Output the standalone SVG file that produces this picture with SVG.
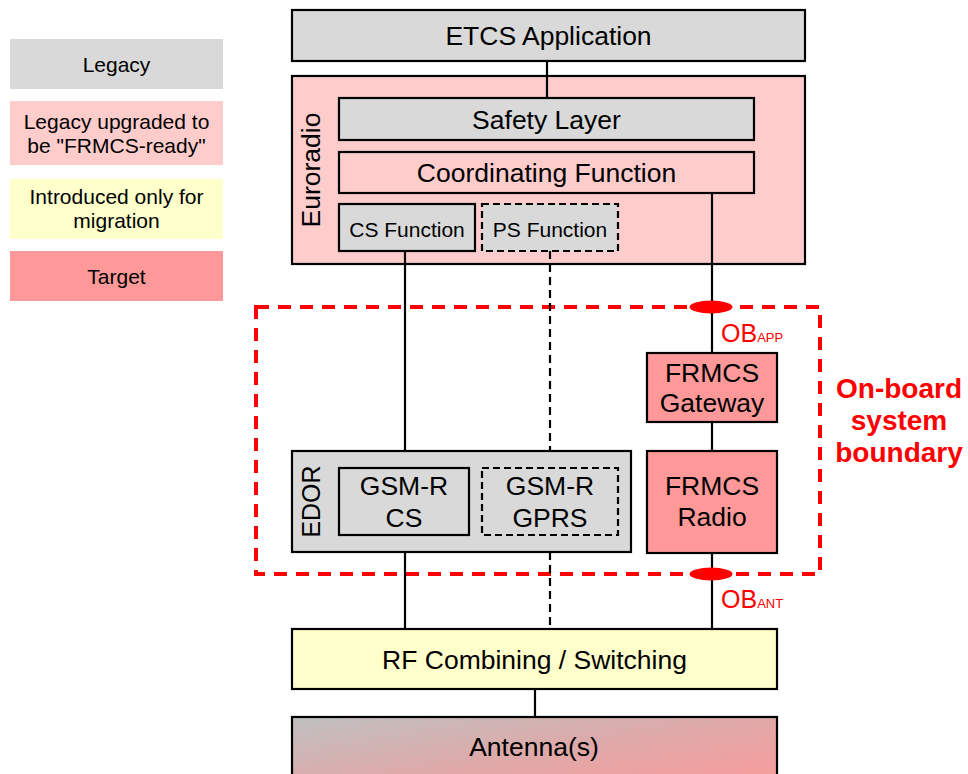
<svg xmlns="http://www.w3.org/2000/svg" width="968" height="774" viewBox="0 0 968 774">
<style>
text{font-family:"Liberation Sans",Arial,sans-serif;fill:#000;text-anchor:middle}
.box{stroke:#000;stroke-width:2.2}
.dbox{stroke:#000;stroke-width:2.2;stroke-dasharray:7 4}
.legacy{fill:#d9d9d9}
.upg{fill:#ffcccc}
.mig{fill:#ffffcc}
.tgt{fill:#ff9999}
.lg{font-size:21px}
.t{font-size:26.5px}
.s{font-size:21px}
.ln{stroke:#000;stroke-width:2.2;fill:none}
.dl{stroke:#000;stroke-width:2.2;fill:none;stroke-dasharray:8 5}
.red{fill:#ff0000}
</style>
<defs>
<linearGradient id="ant" x1="0" y1="0" x2="1" y2="1">
<stop offset="0" stop-color="#c0c0c0"/>
<stop offset="0.5" stop-color="#e0a8a8"/>
<stop offset="1" stop-color="#ff9999"/>
</linearGradient>
</defs>

<g id="legend">
<g id="legend-legacy"><rect class="legacy" x="10" y="39" width="213" height="50"/><text class="lg" x="116.5" y="71.5">Legacy</text></g>
<g id="legend-upgraded"><rect class="upg" x="10" y="101" width="213" height="64"/><text class="lg" x="116.5" y="129">Legacy upgraded to</text><text class="lg" x="116.5" y="153">be "FRMCS-ready"</text></g>
<g id="legend-migration"><rect class="mig" x="10" y="179" width="213" height="60"/><text class="lg" x="116.5" y="204">Introduced only for</text><text class="lg" x="116.5" y="228">migration</text></g>
<g id="legend-target"><rect class="tgt" x="10" y="251" width="213" height="50"/><text class="lg" x="116.5" y="284">Target</text></g>
</g>

<g id="boundary">
<rect x="256" y="307" width="564" height="267" fill="none" stroke="#ff0000" stroke-width="4" stroke-dasharray="13 9"/>
<text x="899" y="398" style="font-size:28px;font-weight:bold;fill:#ff0000">On-board</text>
<text x="899" y="430" style="font-size:28px;font-weight:bold;fill:#ff0000">system</text>
<text x="899" y="462" style="font-size:28px;font-weight:bold;fill:#ff0000">boundary</text>
</g>

<g id="etcs"><rect class="box legacy" x="292" y="10" width="513" height="51"/><text class="t" x="548.5" y="45">ETCS Application</text></g>

<g id="euroradio"><rect class="box upg" x="292" y="76" width="513" height="188"/><text class="t" transform="translate(320,170) rotate(-90)">Euroradio</text></g>
<g id="safety"><rect class="box legacy" x="339" y="98" width="415" height="42"/><text class="t" x="546.5" y="128.5">Safety Layer</text></g>
<g id="coord"><rect class="box upg" x="339" y="152" width="415" height="41"/><text class="t" x="546.5" y="182">Coordinating Function</text></g>
<g id="csf"><rect class="box legacy" x="339" y="204" width="136" height="47"/><text class="s" x="407" y="236.5">CS Function</text></g>
<g id="psf"><rect class="dbox legacy" x="482" y="204" width="136" height="47"/><text class="s" x="550" y="236.5">PS Function</text></g>

<g id="connectors">
<line class="ln" x1="547" y1="61" x2="547" y2="98"/>
<line class="ln" x1="405" y1="251" x2="405" y2="468"/>
<line class="ln" x1="405" y1="552" x2="405" y2="629"/>
<line class="dl" x1="550" y1="251" x2="550" y2="468"/>
<line class="dl" x1="550" y1="552" x2="550" y2="629"/>
<line class="ln" x1="712" y1="193" x2="712" y2="353"/>
<line class="ln" x1="712" y1="422" x2="712" y2="451"/>
<line class="ln" x1="712" y1="553" x2="712" y2="629"/>
<line class="ln" x1="535" y1="689" x2="535" y2="717"/>
</g>

<g id="ob-app"><ellipse class="red" cx="711" cy="307" rx="21.5" ry="6.5"/><text x="721" y="341.5" style="text-anchor:start;font-size:25px;fill:#ff0000">OB<tspan style="font-size:13px">APP</tspan></text></g>
<g id="ob-ant"><ellipse class="red" cx="711" cy="574" rx="21.5" ry="6.5"/><text x="721" y="608" style="text-anchor:start;font-size:25px;fill:#ff0000">OB<tspan style="font-size:13px">ANT</tspan></text></g>

<g id="gateway"><rect class="box tgt" x="647" y="353" width="130" height="69"/><text class="t" x="712" y="382">FRMCS</text><text class="t" x="712" y="412">Gateway</text></g>
<g id="radio"><rect class="box tgt" x="647" y="451" width="130" height="102"/><text class="t" x="712" y="494.5">FRMCS</text><text class="t" x="712" y="526">Radio</text></g>

<g id="edor"><rect class="box legacy" x="292" y="451" width="339" height="101"/><text style="font-size:25px" transform="translate(320,501.5) rotate(-90)">EDOR</text></g>
<g id="gsmcs"><rect class="box legacy" x="339" y="468" width="130" height="67"/><text class="t" x="404" y="495">GSM-R</text><text class="t" x="404" y="527">CS</text></g>
<g id="gsmgprs"><rect class="dbox legacy" x="482" y="468" width="136" height="67"/><text class="t" x="550" y="495">GSM-R</text><text class="t" x="550" y="527">GPRS</text></g>

<g id="rf"><rect class="box mig" x="292" y="629" width="485" height="60"/><text class="t" x="534.5" y="669">RF Combining / Switching</text></g>
<g id="antenna"><rect class="box" fill="url(#ant)" x="292" y="717" width="485" height="80"/><text class="t" x="534" y="756">Antenna(s)</text></g>
</svg>
